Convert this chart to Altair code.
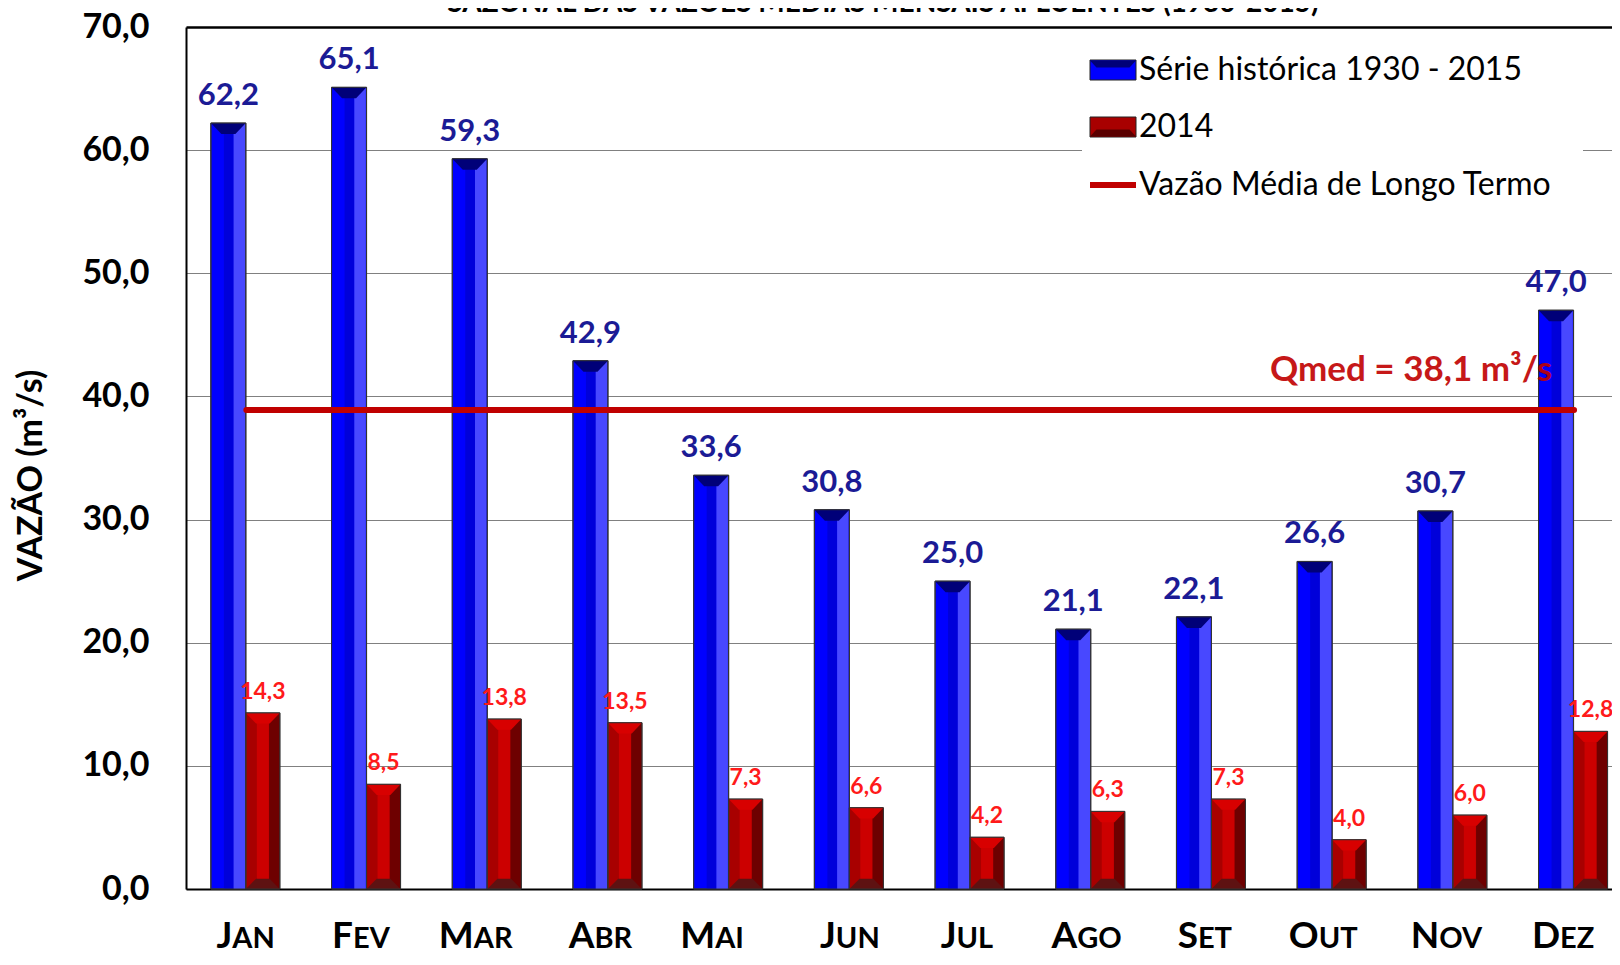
import altair as alt
import pandas as pd

# ---------------- data ----------------
months = ["Jan", "Fev", "Mar", "Abr", "Mai", "Jun", "Jul", "Ago", "Set", "Out", "Nov", "Dez"]
serie_historica = [62.2, 65.1, 59.3, 42.9, 33.6, 30.8, 25.0, 21.1, 22.1, 26.6, 30.7, 47.0]
ano_2014 = [14.3, 8.5, 13.8, 13.5, 7.3, 6.6, 4.2, 6.3, 7.3, 4.0, 6.0, 12.8]
series_names = ["Série histórica 1930 - 2015", "2014", "Vazão Média de Longo Termo"]
series_colors = ["#0000FF", "#A80000", "#C00000"]
qmed_line = 38.9
qmed_label = "Qmed = 38,1 m³/s"
y_ticks = [0, 10, 20, 30, 40, 50, 60, 70]
title_text = "SAZONAL DAS VAZÕES MÉDIAS MENSAIS AFLUENTES (1930-2015)"
y_title = "VAZÃO (m³/s)"

hist = pd.DataFrame({"mes": months, "v": serie_historica, "serie": series_names[0]})
d14 = pd.DataFrame({"mes": months, "v": ano_2014, "serie": series_names[1]})
qmed_df = pd.DataFrame({"mes": [months[0]], "mes2": [months[-1]], "v": [qmed_line],
                        "serie": [series_names[2]]})
qlab_df = pd.DataFrame({"mes": [months[-1]], "v": [qmed_line], "label": [qmed_label]})
mes_df = pd.DataFrame({"mes": months})
title_df = pd.DataFrame({"t": [title_text]})

FONT = "Lato"
W, H = 1426, 862
STEP_RANGE = [0, 1448.4]

fmt = "replace(format(datum.v, '.1f'), '.', ',')"

X = alt.X("mes:N", sort=months,
          scale=alt.Scale(domain=months, range=STEP_RANGE, paddingInner=0, paddingOuter=0),
          axis=alt.Axis(labels=False, ticks=False, domain=True, domainColor="black",
                        domainWidth=2, title=None, grid=False))
Y = alt.Y("v:Q", scale=alt.Scale(domain=[0, 70], nice=False, zero=True),
          axis=alt.Axis(values=y_ticks, title=y_title,
                        labelExpr="replace(format(datum.value, '.1f'), '.', ',')",
                        labelFont=FONT, labelFontSize=34, labelFontWeight="bold",
                        labelColor="black", labelPadding=37, ticks=False,
                        domain=True, domainColor="black", domainWidth=2,
                        grid=True,
                        gridColor=alt.condition("datum.value == 70", alt.value("black"), alt.value("#808080")),
                        gridWidth=alt.condition("datum.value == 70", alt.value(2.5), alt.value(1)),
                        titleFont=FONT, titleFontSize=34, titleFontWeight="bold",
                        titleColor="black", titleX=-155, titleY=448, titleAngle=270,
                        titleAlign="center", titleBaseline="middle"))

C = alt.Color("serie:N", scale=alt.Scale(domain=series_names, range=series_colors), legend=None)

BO, RO = -18, 16.5   # offsets of the two bars within a month band
BW, RW = 35, 34

top_cap = "M-1,0L1,0L0.4,0.63L-0.4,0.63Z"
bot_cap = "M-1,0L1,0L0.4,-0.6L-0.4,-0.6Z"

layers = []
# title (clipped at top like the reference)
layers.append(alt.Chart(title_df).mark_text(font=FONT, fontSize=28, fontWeight="bold",
                                             color="black", align="center", baseline="alphabetic")
              .encode(text="t:N", x=alt.value(697), y=alt.value(-15)))

# blue bars
layers.append(alt.Chart(hist).mark_bar(width=BW, xOffset=BO, stroke="#333333", strokeWidth=1)
              .encode(x=X, y=Y, color=C))
layers.append(alt.Chart(hist).mark_bar(width=10, xOffset=BO + 0.5, color="#0000DA")
              .encode(x=X, y=Y))
layers.append(alt.Chart(hist).mark_bar(width=11.5, xOffset=BO + 11, color="#4848FF")
              .encode(x=X, y=Y))
layers.append(alt.Chart(hist).mark_point(shape=top_cap, size=BW * BW, filled=True, opacity=1,
                                         color="#000078", strokeWidth=0, xOffset=BO)
              .encode(x=X, y=Y))
layers.append(alt.Chart(hist).mark_bar(width=BW, xOffset=BO, fillOpacity=0, stroke="#333333",
                                       strokeWidth=1).encode(x=X, y=Y))
# red bars
layers.append(alt.Chart(d14).mark_bar(width=RW, xOffset=RO, stroke="#333333", strokeWidth=1)
              .encode(x=X, y=Y, color=C))
layers.append(alt.Chart(d14).mark_bar(width=12, xOffset=RO, color="#CC0000")
              .encode(x=X, y=Y))
layers.append(alt.Chart(d14).mark_bar(width=10.5, xOffset=RO + 11.5, color="#6E0000")
              .encode(x=X, y=Y))
layers.append(alt.Chart(d14).mark_point(shape=top_cap, size=RW * RW, filled=True, opacity=1,
                                        color="#D80000", strokeWidth=0, xOffset=RO)
              .encode(x=X, y=Y))
layers.append(alt.Chart(d14).mark_point(shape=bot_cap, size=RW * RW, filled=True, opacity=1,
                                        color="#5E1212", strokeWidth=0, xOffset=RO)
              .encode(x=X, y=alt.datum(0)))
layers.append(alt.Chart(d14).mark_bar(width=RW, xOffset=RO, fillOpacity=0, stroke="#333333",
                                      strokeWidth=1).encode(x=X, y=Y))

# long-term mean line and its label
layers.append(alt.Chart(qmed_df).mark_rule(strokeWidth=6, strokeCap="round")
              .encode(x=X, x2=alt.X2("mes2"), y=Y, color=C))
layers.append(alt.Chart(qlab_df).mark_text(font=FONT, fontSize=35, fontWeight="bold",
                                            color="#C00000", opacity=0.9, align="right",
                                            baseline="alphabetic", dx=-22, dy=-29)
              .encode(x=X, y=Y, text="label:N"))

# value labels
layers.append(alt.Chart(hist).transform_calculate(lbl=fmt)
              .mark_text(font=FONT, fontSize=31, fontWeight="bold", color="#1B1B95",
                         align="center", baseline="alphabetic", dx=BO, dy=-18)
              .encode(x=X, y=Y, text="lbl:N"))
layers.append(alt.Chart(d14).transform_calculate(lbl=fmt)
              .mark_text(font=FONT, fontSize=23, fontWeight="bold", color="#FF1A1A",
                         align="center", baseline="alphabetic", dx=RO, dy=-14)
              .encode(x=X, y=Y, text="lbl:N"))

# month labels in small caps
LBL_Y = H + 59
layers.append(alt.Chart(mes_df).transform_calculate(first="upper(substring(datum.mes, 0, 1))")
              .mark_text(font=FONT, fontSize=37, fontWeight="bold", color="black",
                         align="right", baseline="alphabetic", dx=-14)
              .encode(x=X, y=alt.value(LBL_Y), text="first:N"))
layers.append(alt.Chart(mes_df).transform_calculate(rest="upper(substring(datum.mes, 1))")
              .mark_text(font=FONT, fontSize=29, fontWeight="bold", color="black",
                         align="left", baseline="alphabetic", dx=-14)
              .encode(x=X, y=alt.value(LBL_Y), text="rest:N"))

# legend (white box, swatches, labels)
LX0, LX1, LY0, LY1 = 896, 1397, 14, 187
row_y = [43, 100, 158]
SW0, SW1 = 904, 950
SWC = (SW0 + SW1) / 2
sw_top = "M-1,0L1,0L0.72,0.3L-0.72,0.3Z"
sw_bot = "M-1,0L1,0L0.72,-0.3L-0.72,-0.3Z"
layers.append(alt.Chart(title_df).mark_rect(color="white")
              .encode(x=alt.value(LX0), x2=alt.value(LX1), y=alt.value(LY0), y2=alt.value(LY1)))
for i, name in enumerate(series_names):
    sdf = pd.DataFrame({"s": [name]})
    if i < 2:
        layers.append(alt.Chart(sdf).mark_rect(color=series_colors[i], stroke="#222222", strokeWidth=1)
                      .encode(x=alt.value(SW0), x2=alt.value(SW1),
                              y=alt.value(row_y[i] - 10), y2=alt.value(row_y[i] + 10)))
        if i == 0:
            layers.append(alt.Chart(sdf).mark_point(shape=sw_top, size=46 * 46, filled=True,
                                                    opacity=1, color="#000078", strokeWidth=0)
                          .encode(x=alt.value(SWC), y=alt.value(row_y[i] - 9.5)))
        else:
            layers.append(alt.Chart(sdf).mark_point(shape=sw_bot, size=46 * 46, filled=True,
                                                    opacity=1, color="#5A0000", strokeWidth=0)
                          .encode(x=alt.value(SWC), y=alt.value(row_y[i] + 9.5)))
    else:
        layers.append(alt.Chart(sdf).mark_rule(color=series_colors[i], strokeWidth=6)
                      .encode(x=alt.value(SW0), x2=alt.value(SW1), y=alt.value(row_y[i])))
    layers.append(alt.Chart(sdf).mark_text(font=FONT, fontSize=32, color="black",
                                           align="left", baseline="middle")
                  .encode(text="s:N", x=alt.value(SW1 + 3), y=alt.value(row_y[i])))

chart = (alt.layer(*layers)
         .properties(width=W, height=H,
                     padding={"left": 178, "top": 19, "right": 0, "bottom": 68},
                     autosize=alt.AutoSizeParams(type="none"))
         .configure_view(fill="#ECE9DF", strokeWidth=0)
         .configure(background="white"))

chart.save("out.html", embed_options={"renderer": "svg", "actions": False})
